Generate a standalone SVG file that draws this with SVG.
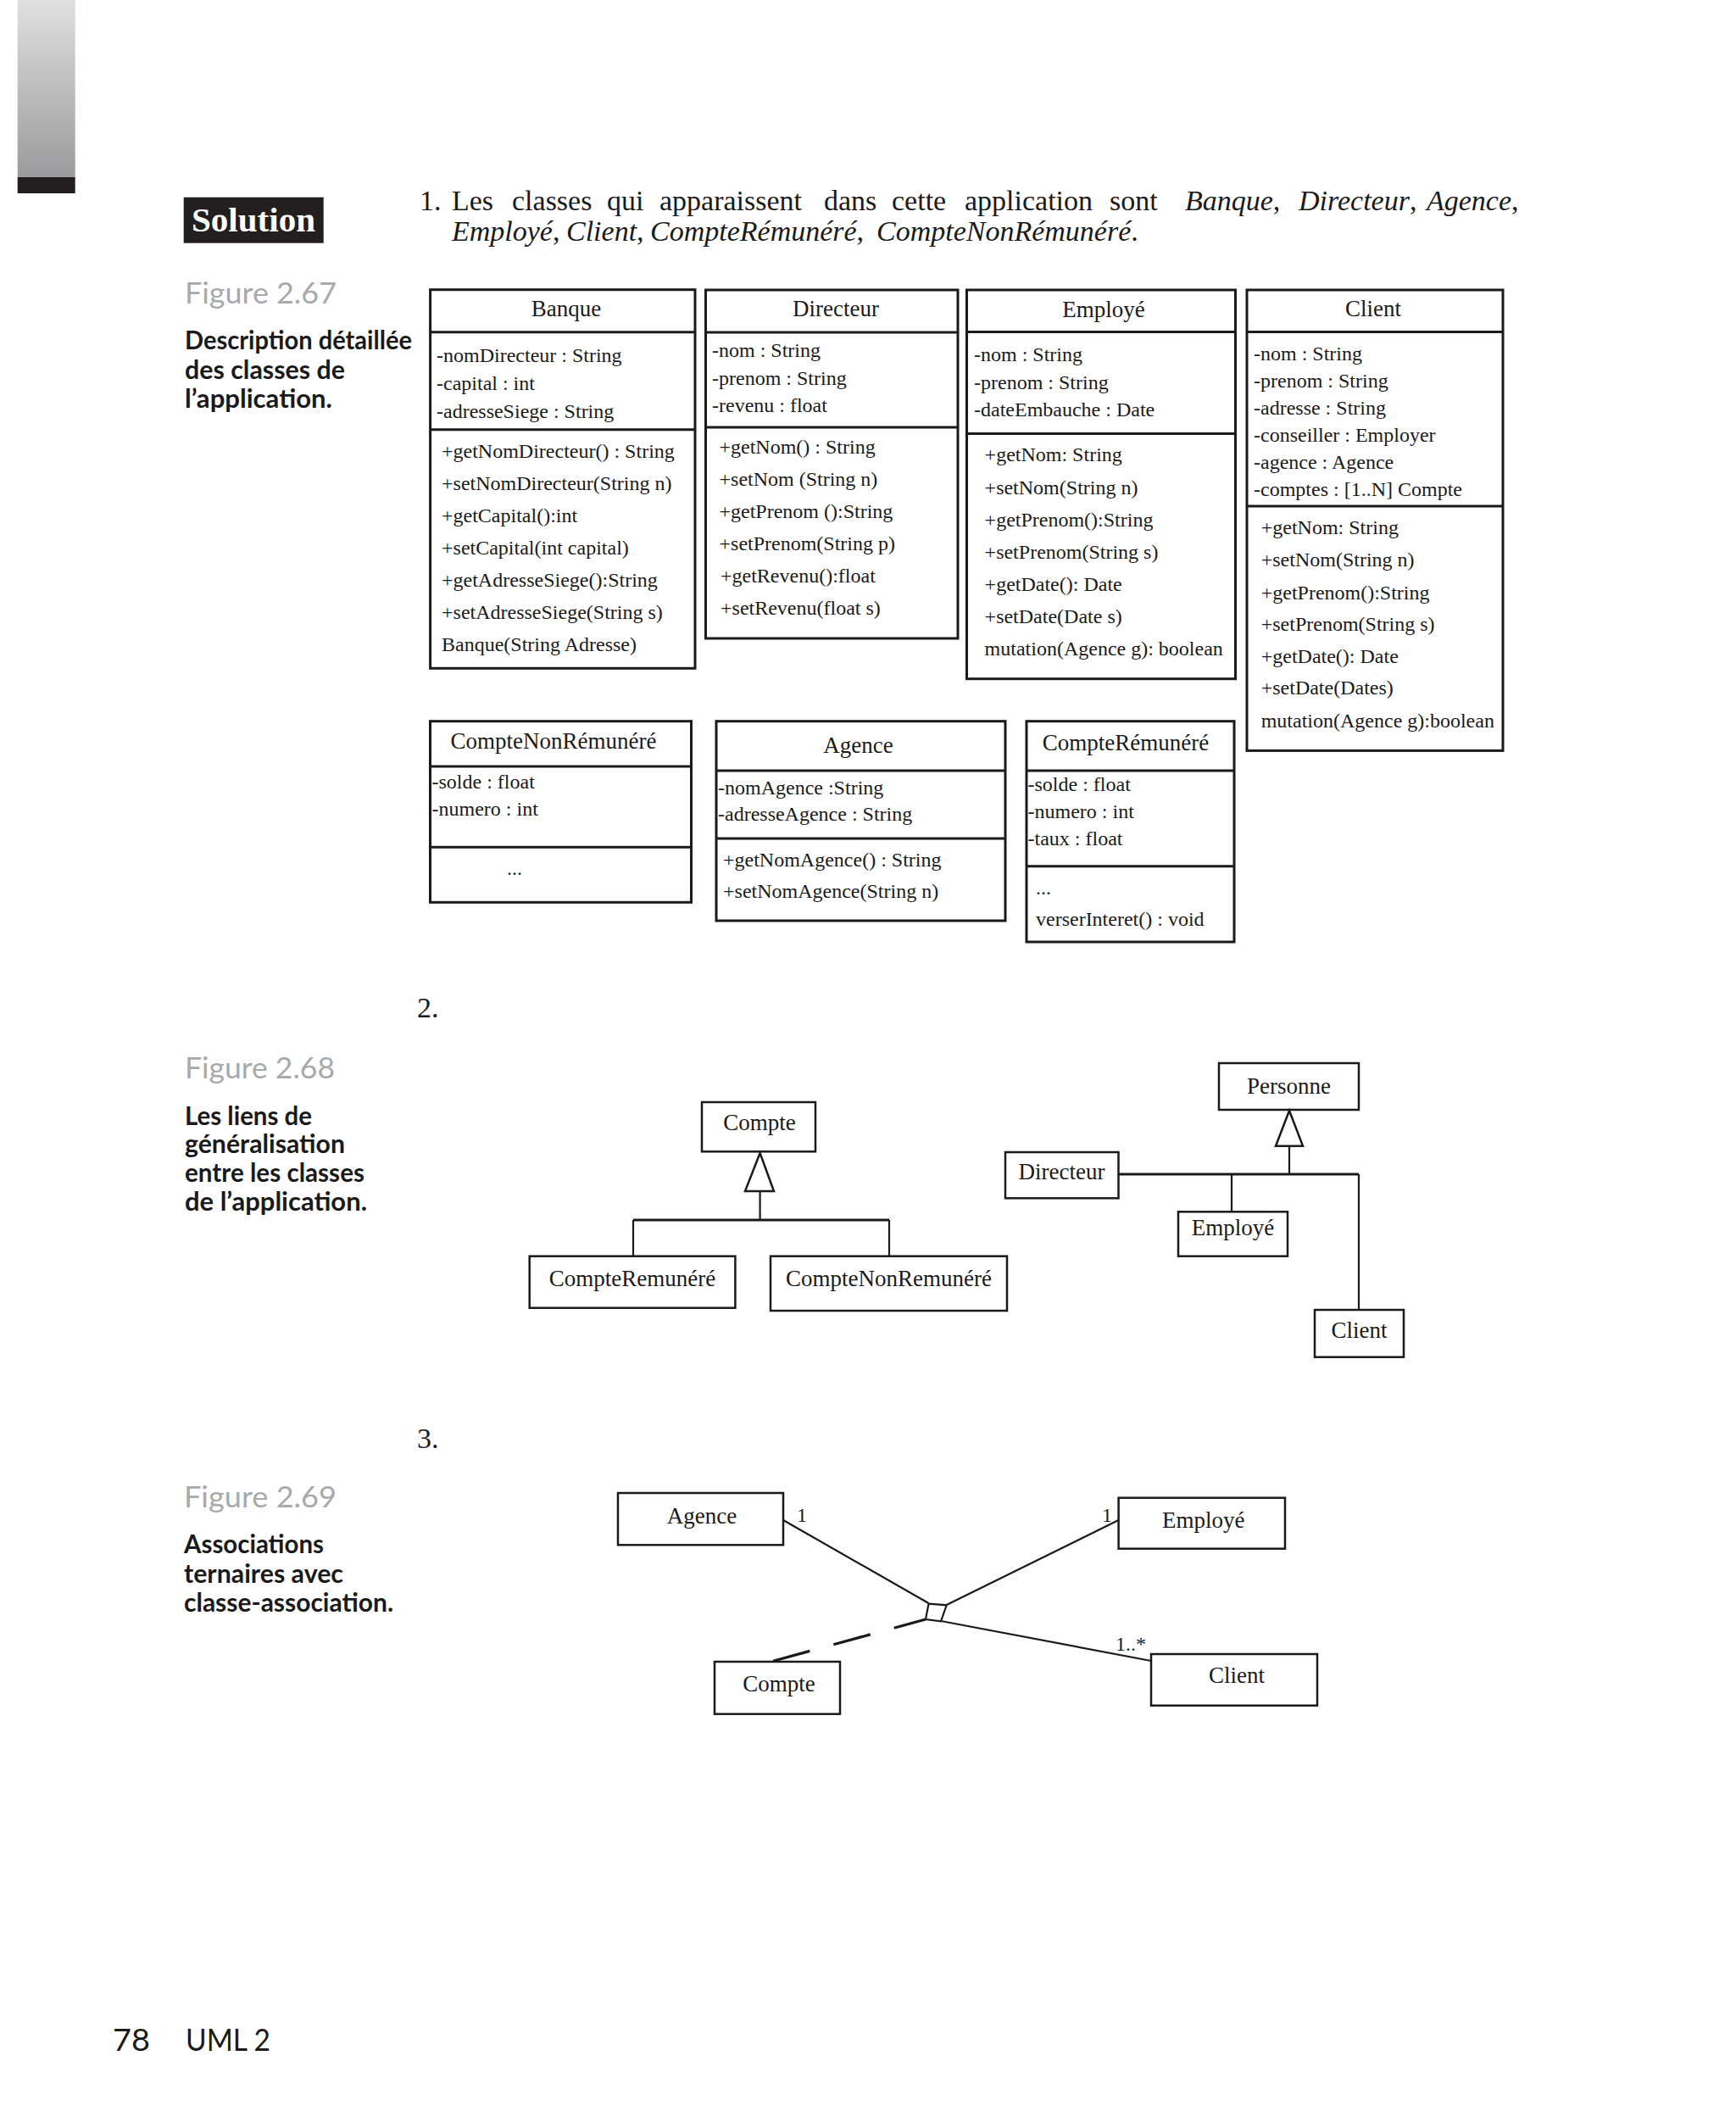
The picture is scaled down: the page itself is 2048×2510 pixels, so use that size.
<svg xmlns="http://www.w3.org/2000/svg" width="2048" height="2510" viewBox="0 0 2048 2510">
<defs>
<linearGradient id="bar" x1="0" y1="0" x2="0" y2="1">
<stop offset="0" stop-color="#e0e0e0"/>
<stop offset="1" stop-color="#9b9b9d"/>
</linearGradient>
<style>
.box{fill:none;stroke:#1a1a1a;stroke-width:3}
.box2{fill:none;stroke:#1a1a1a;stroke-width:2.5}
.sep{stroke:#1a1a1a;stroke-width:3}
.ln{fill:none;stroke:#1a1a1a;stroke-width:2.2}
.lnb{fill:none;stroke:#1a1a1a;stroke-width:3.2}
.tri{fill:#fff;stroke:#1a1a1a;stroke-width:2.5}
.t{font-family:"Liberation Serif","Times New Roman",serif;fill:#1a1a1a}
.ti{font-size:27px;text-anchor:middle}
.m{font-size:24px}
.lb{font-size:27px;text-anchor:middle}
.body{font-family:"Liberation Serif","Times New Roman",serif;font-size:34px;fill:#1a1a1a}
.it{font-style:italic}
.cap{font-family:Lato,"Liberation Sans",sans-serif;font-weight:bold;font-size:30px;fill:#1a1a1a}
.fig{font-family:Lato,"Liberation Sans",sans-serif;font-size:35px;fill:#a9a9ab}
</style>
</defs>
<rect width="2048" height="2510" fill="#ffffff"/>
<rect x="20.7" y="0" width="68" height="209" fill="url(#bar)"/>
<rect x="20.7" y="209" width="68" height="19" fill="#231f20"/>

<g id="solution">
<rect x="216.7" y="232.7" width="165" height="54" fill="#231f20"/>
<text x="226" y="273" font-family="Liberation Serif,serif" font-weight="bold" font-size="41" fill="#fff" textLength="146" lengthAdjust="spacingAndGlyphs">Solution</text>
</g>

<g id="captions">
<text class="fig" x="218" y="358" textLength="179" lengthAdjust="spacingAndGlyphs">Figure 2.67</text>
<text class="cap" x="218" y="412" textLength="268" lengthAdjust="spacingAndGlyphs">Description détaillée</text>
<text class="cap" x="218" y="447" textLength="189" lengthAdjust="spacingAndGlyphs">des classes de</text>
<text class="cap" x="218" y="481" textLength="174" lengthAdjust="spacingAndGlyphs">l’application.</text>
<text class="fig" x="218" y="1272" textLength="177" lengthAdjust="spacingAndGlyphs">Figure 2.68</text>
<text class="cap" x="218" y="1327" textLength="150" lengthAdjust="spacingAndGlyphs">Les liens de</text>
<text class="cap" x="218" y="1360" textLength="189" lengthAdjust="spacingAndGlyphs">généralisation</text>
<text class="cap" x="218" y="1394" textLength="212" lengthAdjust="spacingAndGlyphs">entre les classes</text>
<text class="cap" x="218" y="1428" textLength="215" lengthAdjust="spacingAndGlyphs">de l’application.</text>
<text class="fig" x="217" y="1778" textLength="180" lengthAdjust="spacingAndGlyphs">Figure 2.69</text>
<text class="cap" x="217" y="1832" textLength="165" lengthAdjust="spacingAndGlyphs">Associations</text>
<text class="cap" x="217" y="1867" textLength="188" lengthAdjust="spacingAndGlyphs">ternaires avec</text>
<text class="cap" x="217" y="1901" textLength="247" lengthAdjust="spacingAndGlyphs">classe-association.</text>
</g>

<g id="intro">
<text class="body" y="248"><tspan x="495">1.</tspan><tspan x="533">Les</tspan><tspan x="604">classes</tspan><tspan x="716">qui</tspan><tspan x="778">apparaissent</tspan><tspan x="972">dans</tspan><tspan x="1052">cette</tspan><tspan x="1138">application</tspan><tspan x="1309">sont</tspan><tspan x="1398" class="it">Banque</tspan>,<tspan x="1532" class="it">Directeur</tspan>,<tspan x="1683" class="it">Agence</tspan>,</text>
<text class="body" y="284"><tspan x="533" class="it">Employé</tspan>,<tspan x="668" class="it">Client</tspan>,<tspan x="767" class="it">CompteRémunéré</tspan>,<tspan x="1034" class="it">CompteNonRémunéré</tspan>.</text>
<text class="body" x="492" y="1200">2.</text>
<text class="body" x="492" y="1708">3.</text>
</g>

<g id="class-banque">
<rect class="box" x="507.6" y="341.7" width="312.4" height="446.6"/>
<line class="sep" x1="507.6" y1="391.7" x2="820" y2="391.7"/>
<line class="sep" x1="507.6" y1="506.7" x2="820" y2="506.7"/>
<text class="t ti" x="668" y="373">Banque</text>
<text class="t m" x="515" y="427">-nomDirecteur : String</text>
<text class="t m" x="515" y="460">-capital : int</text>
<text class="t m" x="515" y="493">-adresseSiege : String</text>
<text class="t m" x="521" y="540">+getNomDirecteur() : String</text>
<text class="t m" x="521" y="578">+setNomDirecteur(String n)</text>
<text class="t m" x="521" y="616">+getCapital():int</text>
<text class="t m" x="521" y="654">+setCapital(int capital)</text>
<text class="t m" x="521" y="692">+getAdresseSiege():String</text>
<text class="t m" x="521" y="730">+setAdresseSiege(String s)</text>
<text class="t m" x="521" y="768">Banque(String Adresse)</text>
</g>

<g id="class-directeur">
<rect class="box" x="832.5" y="342" width="297.5" height="411"/>
<line class="sep" x1="832.5" y1="392" x2="1130" y2="392"/>
<line class="sep" x1="832.5" y1="504" x2="1130" y2="504"/>
<text class="t ti" x="986" y="373">Directeur</text>
<text class="t m" x="840" y="421">-nom : String</text>
<text class="t m" x="840" y="454">-prenom : String</text>
<text class="t m" x="840" y="486">-revenu : float</text>
<text class="t m" x="848.5" y="535">+getNom() : String</text>
<text class="t m" x="848.5" y="573">+setNom (String n)</text>
<text class="t m" x="848.5" y="611">+getPrenom ():String</text>
<text class="t m" x="848.5" y="649">+setPrenom(String p)</text>
<text class="t m" x="850" y="687">+getRevenu():float</text>
<text class="t m" x="850" y="725">+setRevenu(float s)</text>
</g>

<g id="class-employe">
<rect class="box" x="1140.5" y="342" width="317" height="458.7"/>
<line class="sep" x1="1140.5" y1="391.4" x2="1457.5" y2="391.4"/>
<line class="sep" x1="1140.5" y1="511.4" x2="1457.5" y2="511.4"/>
<text class="t ti" x="1302" y="374">Employé</text>
<text class="t m" x="1149" y="426">-nom : String</text>
<text class="t m" x="1149" y="458.6">-prenom : String</text>
<text class="t m" x="1149" y="490.7">-dateEmbauche : Date</text>
<text class="t m" x="1161.6" y="544">+getNom: String</text>
<text class="t m" x="1161.6" y="582.5">+setNom(String n)</text>
<text class="t m" x="1161.6" y="621">+getPrenom():String</text>
<text class="t m" x="1161.6" y="658.6">+setPrenom(String s)</text>
<text class="t m" x="1161.6" y="697">+getDate(): Date</text>
<text class="t m" x="1161.6" y="735">+setDate(Date s)</text>
<text class="t m" x="1161.6" y="773">mutation(Agence g): boolean</text>
</g>

<g id="class-client">
<rect class="box" x="1471" y="342" width="302" height="543.4"/>
<line class="sep" x1="1471" y1="391.4" x2="1773" y2="391.4"/>
<line class="sep" x1="1471" y1="597" x2="1773" y2="597"/>
<text class="t ti" x="1620" y="373">Client</text>
<text class="t m" x="1479" y="424.6">-nom : String</text>
<text class="t m" x="1479" y="456.8">-prenom : String</text>
<text class="t m" x="1479" y="489">-adresse : String</text>
<text class="t m" x="1479" y="521">-conseiller : Employer</text>
<text class="t m" x="1479" y="553">-agence : Agence</text>
<text class="t m" x="1479" y="585.4">-comptes : [1..N] Compte</text>
<text class="t m" x="1487.7" y="630">+getNom: String</text>
<text class="t m" x="1487.7" y="667.5">+setNom(String n)</text>
<text class="t m" x="1487.7" y="706.8">+getPrenom():String</text>
<text class="t m" x="1487.7" y="744.3">+setPrenom(String s)</text>
<text class="t m" x="1487.7" y="781.8">+getDate(): Date</text>
<text class="t m" x="1487.7" y="819.3">+setDate(Dates)</text>
<text class="t m" x="1487.7" y="857.9">mutation(Agence g):boolean</text>
</g>

<g id="class-comptenonremunere">
<rect class="box" x="507.5" y="850.7" width="308" height="213.6"/>
<line class="sep" x1="507.5" y1="904" x2="815.5" y2="904"/>
<line class="sep" x1="507.5" y1="999.3" x2="815.5" y2="999.3"/>
<text class="t ti" x="653" y="883">CompteNonRémunéré</text>
<text class="t m" x="509.5" y="930">-solde : float</text>
<text class="t m" x="509.5" y="962">-numero : int</text>
<text class="t m" x="607" y="1032" text-anchor="middle">...</text>
</g>

<g id="class-agence">
<rect class="box" x="845" y="850.7" width="341" height="235.3"/>
<line class="sep" x1="845" y1="909" x2="1186" y2="909"/>
<line class="sep" x1="845" y1="989" x2="1186" y2="989"/>
<text class="t ti" x="1012.5" y="888">Agence</text>
<text class="t m" x="847" y="937">-nomAgence :String</text>
<text class="t m" x="847" y="968">-adresseAgence : String</text>
<text class="t m" x="853" y="1022">+getNomAgence() : String</text>
<text class="t m" x="853" y="1059">+setNomAgence(String n)</text>
</g>

<g id="class-compteremunere">
<rect class="box" x="1211" y="850.7" width="245" height="260.3"/>
<line class="sep" x1="1211" y1="909" x2="1456" y2="909"/>
<line class="sep" x1="1211" y1="1021.7" x2="1456" y2="1021.7"/>
<text class="t ti" x="1328" y="885">CompteRémunéré</text>
<text class="t m" x="1212.5" y="933">-solde : float</text>
<text class="t m" x="1212.5" y="965">-numero : int</text>
<text class="t m" x="1212.5" y="997">-taux : float</text>
<text class="t m" x="1222" y="1055">...</text>
<text class="t m" x="1222" y="1092">verserInteret() : void</text>
</g>

<g id="g2-compte">
<rect class="box2" x="828" y="1300" width="134" height="58.3"/>
<text class="t lb" x="896" y="1333">Compte</text>
</g>
<g id="g2-compteremunere">
<rect class="box2" x="624.7" y="1481.7" width="242.7" height="61"/>
<text class="t lb" x="746" y="1517">CompteRemunéré</text>
</g>
<g id="g2-comptenonremunere">
<rect class="box2" x="909" y="1481.7" width="279" height="64.3"/>
<text class="t lb" x="1048.5" y="1517">CompteNonRemunéré</text>
</g>
<g id="g2-personne">
<rect class="box2" x="1438" y="1254" width="165" height="55"/>
<text class="t lb" x="1520.5" y="1290">Personne</text>
</g>
<g id="g2-directeur">
<rect class="box2" x="1186" y="1359" width="133.5" height="54.3"/>
<text class="t lb" x="1252.5" y="1391">Directeur</text>
</g>
<g id="g2-employe">
<rect class="box2" x="1390" y="1429.3" width="129" height="52.4"/>
<text class="t lb" x="1454.5" y="1457">Employé</text>
</g>
<g id="g2-client">
<rect class="box2" x="1551" y="1545" width="105" height="55.7"/>
<text class="t lb" x="1603.5" y="1578">Client</text>
</g>

<g id="g3-agence">
<rect class="box2" x="729" y="1761" width="195" height="61.3"/>
<text class="t lb" x="828" y="1797">Agence</text>
</g>
<g id="g3-employe">
<rect class="box2" x="1319.6" y="1766.7" width="196.4" height="60"/>
<text class="t lb" x="1419.7" y="1802">Employé</text>
</g>
<g id="g3-compte">
<rect class="box2" x="843" y="1960" width="148" height="61.7"/>
<text class="t lb" x="919" y="1995">Compte</text>
</g>
<g id="g3-client">
<rect class="box2" x="1358" y="1951" width="196" height="60.7"/>
<text class="t lb" x="1459" y="1985">Client</text>
</g>

<g id="connectors">
<polygon class="tri" points="896.6,1360 879,1405 913,1405"/>
<line class="ln" x1="896.6" y1="1405" x2="896.6" y2="1439"/>
<line class="lnb" x1="747" y1="1439" x2="1049" y2="1439"/>
<line class="ln" x1="747" y1="1439" x2="747" y2="1481.7"/>
<line class="ln" x1="1049" y1="1439" x2="1049" y2="1481.7"/>

<polygon class="tri" points="1521,1310 1505,1351.7 1537,1351.7"/>
<line class="ln" x1="1521" y1="1351.7" x2="1521" y2="1385"/>
<line class="lnb" x1="1319.5" y1="1385" x2="1603" y2="1385"/>
<line class="ln" x1="1453" y1="1385" x2="1453" y2="1429.3"/>
<line class="ln" x1="1603" y1="1385" x2="1603" y2="1545"/>

<line class="ln" x1="924" y1="1793" x2="1095.5" y2="1891"/>
<line class="ln" x1="1319.6" y1="1793" x2="1116.7" y2="1893"/>
<line class="ln" x1="1110" y1="1912" x2="1358" y2="1959"/>
<line class="lnb" x1="912" y1="1959.3" x2="1092" y2="1910" stroke-dasharray="45 29"/>
<polygon fill="#fff" stroke="#1a1a1a" stroke-width="2.2" points="1095.5,1891.7 1116.7,1893.3 1110,1912.3 1092,1910"/>
<text class="t m" x="940" y="1795">1</text>
<text class="t m" x="1300" y="1795">1</text>
<text class="t m" x="1316" y="1947">1..*</text>
</g>

<g id="footer">
<text x="133" y="2419" font-family="Lato,'Liberation Sans',sans-serif" font-size="37" fill="#1a1a1a" textLength="44" lengthAdjust="spacingAndGlyphs">78</text>
<text x="219" y="2419" font-family="Lato,'Liberation Sans',sans-serif" font-size="37" fill="#1a1a1a" textLength="100" lengthAdjust="spacingAndGlyphs">UML 2</text>
</g>
</svg>
